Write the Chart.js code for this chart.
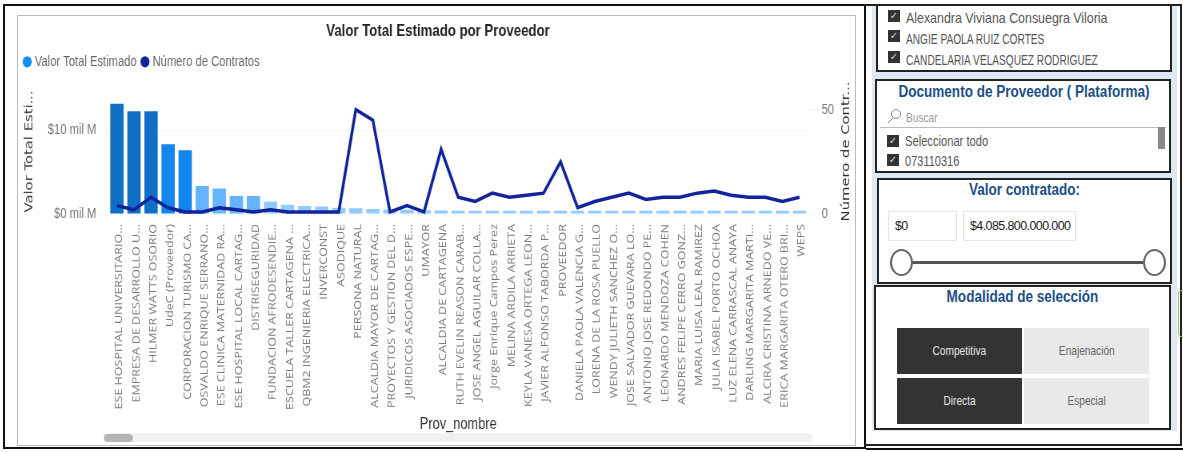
<!DOCTYPE html>
<html lang="es">
<head>
<meta charset="utf-8">
<title>Valor Total Estimado por Proveedor</title>
<script src="https://cdn.jsdelivr.net/npm/chart.js@4"></script>
<style>
  html, body { margin: 0; padding: 0; background: #fff; }
  body { width: 1183px; height: 452px; position: relative; overflow: hidden; font-family: "Liberation Sans", sans-serif; filter: blur(0.35px); }
  .abs { position: absolute; box-sizing: border-box; }
  .box { position: absolute; box-sizing: border-box; background: #fff; border: 2px solid #222; }
  .head { position: absolute; text-align: center; color: #1c4f86; font: bold 16px "Liberation Sans", sans-serif; white-space: nowrap; transform: scaleX(0.845); }
  .row { position: absolute; color: #555; font-size: 14.5px; white-space: nowrap; transform-origin: left center; }
  .check { position: absolute; width: 12px; height: 12px; background: #333; color: #ddd; font: 10px/12px "DejaVu Sans", sans-serif; text-align: center; }
  .input { position: absolute; box-sizing: border-box; border: 1px solid #e6e6e6; color: #222; font: 12.5px/28px "Liberation Sans", sans-serif; padding-left: 6px; height: 30px; letter-spacing: -0.6px; }
  .knob { position: absolute; box-sizing: border-box; width: 23px; height: 27px; border-radius: 50%; border: 2px solid #666; background: #fff; }
  .btn { position: absolute; text-align: center; font-size: 13px; line-height: 46px; height: 46px; width: 125px; }
  .btn span { display: inline-block; transform: scaleX(0.78); }
  .on { background: #333; color: #e6e6e6; }
  .off { background: #e9e9e9; color: #666; }
  #chart { transform: scaleX(0.8); transform-origin: left top; }
</style>
</head>
<body>
<!-- marco del grafico -->
<div class="abs" style="left:3px;top:4px;width:863px;height:445px;border:2px solid #111;border-right-width:2px"></div>
<div class="abs" style="left:17px;top:15px;width:839px;height:431px;border:1px solid #bbb"></div>
<canvas id="chart" class="abs" style="left:18px;top:16px"></canvas>
<div class="abs" style="left:103px;top:433px;width:710px;height:9px;border-radius:5px;background:#f1f1f1"></div>
<div class="abs" style="left:104px;top:434px;width:29px;height:8px;border-radius:4px;background:#b5b5b5"></div>

<!-- panel de filtros -->
<div class="abs" style="left:864px;top:4px;width:318px;height:442px;border:2px solid #222;border-left:0"></div>
<div class="abs" style="left:866px;top:448px;width:317px;height:2px;background:#111"></div>
<div class="abs" style="left:872px;top:6px;width:305px;height:425px;background:#dde8f2"></div>
<div class="abs" style="left:1178px;top:290px;width:6px;height:47px;border:1px solid #9dc06a;border-right:0;border-radius:4px 0 0 4px"></div>

<div class="box" style="left:876px;top:4px;width:296px;height:68px"></div>
<div class="check" style="left:888px;top:10px">✓</div><div class="row" style="left:906px;top:10px;transform:scaleX(.855)">Alexandra Viviana Consuegra Viloria</div>
<div class="check" style="left:888px;top:30px">✓</div><div class="row" style="left:906px;top:31px;transform:scaleX(.7)">ANGIE PAOLA RUIZ CORTES</div>
<div class="check" style="left:888px;top:51px">✓</div><div class="row" style="left:906px;top:52px;transform:scaleX(.7)">CANDELARIA VELASQUEZ RODRIGUEZ</div>

<div class="box" style="left:875px;top:79px;width:296px;height:94px"></div>
<div class="head" style="left:875px;top:83px;width:298px">Documento de Proveedor ( Plataforma)</div>
<div class="row" style="left:906px;top:110px;color:#999;font-size:13px;transform:scaleX(.78)">Buscar</div>
<svg class="abs" style="left:886px;top:108px" width="16" height="17"><circle cx="10" cy="6" r="4.5" fill="none" stroke="#888"/><line x1="7" y1="10" x2="2" y2="15" stroke="#888"/></svg>
<div class="abs" style="left:880px;top:127px;width:286px;height:1px;background:#bbb"></div>
<div class="abs" style="left:1158px;top:127px;width:7px;height:22px;background:#888"></div>
<div class="check" style="left:887px;top:135px">✓</div><div class="row" style="left:905px;top:133px;transform:scaleX(.77)">Seleccionar todo</div>
<div class="check" style="left:887px;top:154px">✓</div><div class="row" style="left:905px;top:153px;transform:scaleX(.76)">073110316</div>

<div class="box" style="left:877px;top:178px;width:295px;height:106px"></div>
<div class="head" style="left:877px;top:181px;width:295px">Valor contratado:</div>
<div class="input" style="left:888px;top:211px;width:69px">$0</div>
<div class="input" style="left:963px;top:211px;width:113px">$4.085.800.000.000</div>
<div class="abs" style="left:905px;top:261px;width:245px;height:3px;background:#555"></div>
<div class="knob" style="left:890px;top:249px"></div>
<div class="knob" style="left:1143px;top:249px"></div>

<div class="box" style="left:874px;top:285px;width:297px;height:145px"></div>
<div class="head" style="left:874px;top:288px;width:297px">Modalidad de selección</div>
<div class="btn on" style="left:897px;top:328px"><span>Competitiva</span></div>
<div class="btn off" style="left:1024px;top:328px"><span>Enajenación</span></div>
<div class="btn on" style="left:897px;top:378px"><span>Directa</span></div>
<div class="btn off" style="left:1024px;top:378px"><span>Especial</span></div>

<script>
const proveedores = ['ESE HOSPITAL UNIVERSITARIO...', 'EMPRESA DE DESARROLLO U...', 'HILMER WATTS OSORIO', 'UdeC (Proveedor)',
  'CORPORACION TURISMO CA...', 'OSVALDO ENRIQUE SERRANO...', 'ESE CLINICA MATERNIDAD RA...', 'ESE HOSPITAL LOCAL CARTAG...',
  'DISTRISEGURIDAD', 'FUNDACION AFRODESENDIE...', 'ESCUELA TALLER CARTAGENA ...', 'QBM2 INGENIERIA ELECTRICA...',
  'INVERCONST', 'ASODIQUE', 'PERSONA NATURAL', 'ALCALDIA MAYOR DE CARTAG...', 'PROYECTOS Y GESTION DEL D...',
  'JURIDICOS ASOCIADOS ESPE...', 'UMAYOR', 'ALCALDIA DE CARTAGENA', 'RUTH EVELIN REASON CARAB...', 'JOSE ANGEL AGUILAR COLLA...',
  'Jorge Enrique Campos Perez', 'MELINA ARDILA ARRIETA', 'KEYLA VANESA ORTEGA LEON...', 'JAVIER ALFONSO TABORDA P...',
  'PROVEEDOR', 'DANIELA PAOLA VALENCIA G...', 'LORENA DE LA ROSA PUELLO', 'WENDY JULIETH SANCHEZ O...',
  'JOSE SALVADOR GUEVARA LO...', 'ANTONIO JOSE REDONDO PE...', 'LEONARDO MENDOZA COHEN', 'ANDRES FELIPE CERRO GONZ...',
  'MARIA LUISA LEAL RAMIREZ', 'JULIA ISABEL PORTO OCHOA', 'LUZ ELENA CARRASCAL ANAYA', 'DARLING MARGARITA MARTI...',
  'ALCIRA CRISTINA ARNEDO VE...', 'ERICA MARGARITA OTERO BRI...', 'WEPS'];

// miles de millones
const valorTotal = [13.2, 12.3, 12.3, 8.35, 7.65, 3.35, 3.05, 2.15, 2.15, 1.5, 1.1, 0.95, 0.9, 0.75, 0.7, 0.6, 0.55, 0.5, 0.45, 0.42,
  0.4, 0.4, 0.4, 0.4, 0.4, 0.4, 0.4, 0.4, 0.4, 0.4, 0.4, 0.4, 0.4, 0.4, 0.4, 0.4, 0.4, 0.4, 0.4, 0.4, 0.4];

const numContratos = [4, 2, 8, 3, 1, 1, 3, 2, 1, 2, 1, 1, 1, 1, 50, 45, 1, 4, 1, 31,
  8, 6, 10, 8, 9, 10, 25, 3, 6, 8, 10, 7, 8, 8, 10, 11, 9, 8, 8, 6, 8];

const ticksValor = [0, 10];
const ticksContratos = [0, 50];

// el color de la barra depende del valor
function barColor(v) {
  if (v > 10) return '#0f6fc6';
  if (v > 5) return '#1485ee';
  if (v > 2) return '#66b3ff';
  return '#93cbff';
}

const SANS = '"Liberation Sans", sans-serif';
const AXIS_FONT = '"DejaVu Sans", sans-serif';

function drawAxisTitle(c, text, x, y, color) {
  c.save();
  c.translate(x, y);
  c.rotate(-Math.PI / 2);
  c.textAlign = 'center';
  c.textBaseline = 'middle';
  c.fillStyle = color;
  c.font = '14.8px ' + AXIS_FONT;
  c.fillText(text, 0, 0);
  c.restore();
}

// el eje derecho de Chart.js gira el titulo al reves, los dos se dibujan aparte
const axisTitles = {
  id: 'axisTitles',
  afterDraw(chart) {
    const s = chart.scales.y;
    const mid = (s.top + s.bottom) / 2;
    drawAxisTitle(chart.ctx, 'Valor Total Esti...', 14, mid + 5, '#444');
    drawAxisTitle(chart.ctx, 'Número de Contr...', 1035, mid + 5, '#333');
  }
};

// el lienzo va comprimido en horizontal con CSS (scaleX 0.8)
const canvas = document.getElementById('chart');
canvas.width = 1045;
canvas.height = 428;

new Chart(canvas.getContext('2d'), {
  type: 'bar',
  data: {
    labels: proveedores,
    datasets: [
      {
        label: 'Número de Contratos',
        type: 'line',
        data: numContratos,
        yAxisID: 'y1',
        borderColor: '#12239e',
        backgroundColor: '#12239e',
        borderWidth: 3.5,
        pointRadius: 0,
        pointStyle: 'circle',
        tension: 0,
        order: 1
      },
      {
        label: 'Valor Total Estimado',
        data: valorTotal,
        yAxisID: 'y',
        backgroundColor: valorTotal.map(barColor),
        barPercentage: 0.78,
        categoryPercentage: 1,
        order: 2
      }
    ]
  },
  options: {
    responsive: false,
    animation: false,
    layout: { padding: { left: 5, right: 0, top: 0, bottom: 10 } },
    plugins: {
      title: {
        display: true,
        text: 'Valor Total Estimado por Proveedor',
        color: '#252423',
        font: { family: SANS, size: 16.5, weight: 'bold' },
        padding: { top: 6, bottom: 9 }
      },
      legend: {
        display: true,
        position: 'top',
        align: 'start',
        labels: {
          usePointStyle: true,
          boxWidth: 5,
          boxHeight: 8,
          padding: 4,
          color: '#666',
          font: { family: SANS, size: 14 },
          generateLabels() {
            return [
              { text: 'Valor Total Estimado\u00a0', fillStyle: '#118dff', strokeStyle: '#118dff', lineWidth: 0, pointStyle: 'circle', fontColor: '#666' },
              { text: 'Número de Contratos', fillStyle: '#12239e', strokeStyle: '#12239e', lineWidth: 0, pointStyle: 'circle', fontColor: '#666' }
            ];
          }
        }
      },
      tooltip: { enabled: false }
    },
    scales: {
      x: {
        grid: { display: false },
        border: { display: false },
        ticks: {
          autoSkip: false,
          maxRotation: 90,
          minRotation: 90,
          padding: 2,
          labelOffset: 3,
          color: '#7a7a7a',
          font: { family: '"Open Sans", sans-serif', size: 12.5 }
        },
        title: {
          display: true,
          text: 'Prov_nombre',
          color: '#333',
          font: { family: SANS, size: 16 },
          padding: { top: 0, bottom: 0 }
        },
        afterFit(scale) { scale.height = 220; }
      },
      y: {
        position: 'left',
        min: 0,
        max: 16.2,
        afterBuildTicks(scale) { scale.ticks = ticksValor.map(v => ({ value: v })); },
        grid: { color: '#ddd', tickLength: 7, tickBorderDash: [1, 3] },
        border: { display: false, dash: [1, 3] },
        ticks: {
          padding: 8,
          color: '#777',
          font: { family: SANS, size: 14 },
          callback: v => '$' + v + ' mil M'
        },
        afterFit(scale) { scale.width = 108; }
      },
      y1: {
        position: 'right',
        min: 0,
        max: 64.8,
        afterBuildTicks(scale) { scale.ticks = ticksContratos.map(v => ({ value: v })); },
        grid: { drawOnChartArea: false, color: '#ddd', tickLength: 15, tickBorderDash: [1, 3] },
        border: { display: false },
        ticks: {
          padding: 2,
          color: '#777',
          font: { family: SANS, size: 14 }
        },
        afterFit(scale) { scale.width = 57.5; }
      }
    }
  },
  plugins: [axisTitles]
});
</script>
</body>
</html>
